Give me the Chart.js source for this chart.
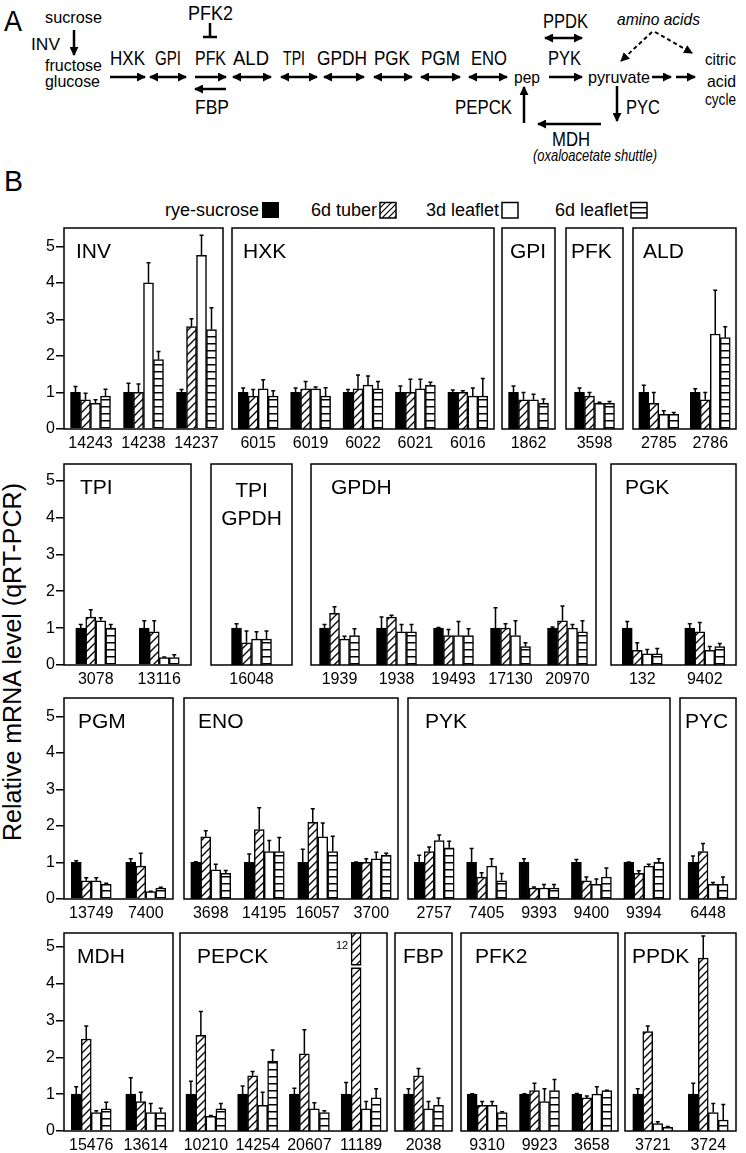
<!DOCTYPE html>
<html>
<head>
<meta charset="utf-8">
<script src="https://cdn.jsdelivr.net/npm/chart.js@4.4.1/dist/chart.umd.min.js"></script>
<style>
  body { margin: 0; background: #fff; }
  #fig { position: relative; width: 746px; height: 1153px; overflow: hidden; background: #fff; }
  #fig canvas { position: absolute; }
  #art { position: absolute; left: 0; top: 0; }
  #art text { font-family: "Liberation Sans", Arial, sans-serif; fill: #000; }
</style>
</head>
<body>
<div id="fig">
<svg id="art" width="746" height="1153" xmlns="http://www.w3.org/2000/svg">
  <defs>
    <marker id="ah" markerUnits="userSpaceOnUse" markerWidth="9" markerHeight="9" refX="8" refY="4.5" orient="auto-start-reverse">
      <path d="M0,0 L9,4.5 L0,9 z" fill="#000"/>
    </marker>
    <pattern id="hatch" width="6" height="6" patternUnits="userSpaceOnUse">
      <path d="M-1,1 l2,-2 M0,6 l6,-6 M5,7 l2,-2" stroke="#000" stroke-width="1.2"/>
    </pattern>
  </defs>

  <!-- panel A: pathway -->
  <text x="4" y="31" font-size="30" textLength="18" lengthAdjust="spacingAndGlyphs">A</text>
  <g font-size="17">
    <text x="45" y="23" textLength="57" lengthAdjust="spacingAndGlyphs">sucrose</text>
    <text x="31" y="50" textLength="29" lengthAdjust="spacingAndGlyphs">INV</text>
    <text x="45" y="71" textLength="57" lengthAdjust="spacingAndGlyphs">fructose</text>
    <text x="45" y="87" textLength="55" lengthAdjust="spacingAndGlyphs">glucose</text>
    <text x="514" y="83" textLength="26" lengthAdjust="spacingAndGlyphs">pep</text>
    <text x="588" y="83" textLength="62" lengthAdjust="spacingAndGlyphs">pyruvate</text>
    <text x="705" y="65" textLength="31" lengthAdjust="spacingAndGlyphs">citric</text>
    <text x="707" y="87" textLength="29" lengthAdjust="spacingAndGlyphs">acid</text>
    <text x="705" y="105" textLength="31" lengthAdjust="spacingAndGlyphs">cycle</text>
    <text x="617" y="25" font-style="italic" textLength="83" lengthAdjust="spacingAndGlyphs">amino acids</text>
    <text x="533" y="161" font-style="italic" textLength="124" lengthAdjust="spacingAndGlyphs">(oxaloacetate shuttle)</text>
  </g>
  <g font-size="21">
    <text x="110" y="65" textLength="35" lengthAdjust="spacingAndGlyphs">HXK</text>
    <text x="155" y="65" textLength="26" lengthAdjust="spacingAndGlyphs">GPI</text>
    <text x="195" y="65" textLength="31" lengthAdjust="spacingAndGlyphs">PFK</text>
    <text x="233" y="65" textLength="36" lengthAdjust="spacingAndGlyphs">ALD</text>
    <text x="283" y="65" textLength="22" lengthAdjust="spacingAndGlyphs">TPI</text>
    <text x="317" y="65" textLength="50" lengthAdjust="spacingAndGlyphs">GPDH</text>
    <text x="374" y="65" textLength="36" lengthAdjust="spacingAndGlyphs">PGK</text>
    <text x="421" y="65" textLength="39" lengthAdjust="spacingAndGlyphs">PGM</text>
    <text x="471" y="65" textLength="36" lengthAdjust="spacingAndGlyphs">ENO</text>
    <text x="548" y="65" textLength="33" lengthAdjust="spacingAndGlyphs">PYK</text>
    <text x="543" y="28" textLength="45" lengthAdjust="spacingAndGlyphs">PPDK</text>
    <text x="188" y="20" textLength="45" lengthAdjust="spacingAndGlyphs">PFK2</text>
    <text x="195" y="114" textLength="34" lengthAdjust="spacingAndGlyphs">FBP</text>
    <text x="455" y="114" textLength="57" lengthAdjust="spacingAndGlyphs">PEPCK</text>
    <text x="626" y="114" textLength="34" lengthAdjust="spacingAndGlyphs">PYC</text>
    <text x="552" y="146" textLength="38" lengthAdjust="spacingAndGlyphs">MDH</text>
  </g>
  <g stroke="#000" stroke-width="2.5" fill="none">
    <line x1="74" y1="30" x2="74" y2="55" marker-end="url(#ah)"/>
    <line x1="110" y1="77" x2="145" y2="77" marker-end="url(#ah)"/>
    <line x1="150" y1="77" x2="186" y2="77" marker-start="url(#ah)" marker-end="url(#ah)"/>
    <line x1="195" y1="77" x2="226" y2="77" marker-end="url(#ah)"/>
    <line x1="226" y1="89" x2="195" y2="89" marker-end="url(#ah)"/>
    <line x1="233" y1="77" x2="271" y2="77" marker-start="url(#ah)" marker-end="url(#ah)"/>
    <line x1="281" y1="77" x2="317" y2="77" marker-start="url(#ah)" marker-end="url(#ah)"/>
    <line x1="324" y1="77" x2="364" y2="77" marker-start="url(#ah)" marker-end="url(#ah)"/>
    <line x1="374" y1="77" x2="412" y2="77" marker-start="url(#ah)" marker-end="url(#ah)"/>
    <line x1="421" y1="77" x2="460" y2="77" marker-start="url(#ah)" marker-end="url(#ah)"/>
    <line x1="469" y1="77" x2="507" y2="77" marker-start="url(#ah)" marker-end="url(#ah)"/>
    <line x1="549" y1="77" x2="582" y2="77" marker-end="url(#ah)"/>
    <line x1="545" y1="38" x2="582" y2="38" marker-start="url(#ah)" marker-end="url(#ah)"/>
    <line x1="652" y1="77" x2="671" y2="77" marker-end="url(#ah)"/>
    <line x1="676" y1="77" x2="695" y2="77" marker-end="url(#ah)"/>
    <line x1="210" y1="23" x2="210" y2="37"/>
    <line x1="203" y1="37" x2="217" y2="37"/>
    <line x1="617" y1="86" x2="617" y2="121" marker-end="url(#ah)"/>
    <line x1="601" y1="124" x2="538" y2="124" marker-end="url(#ah)"/>
    <line x1="524" y1="123" x2="524" y2="87" marker-end="url(#ah)"/>
    <line x1="652" y1="32" x2="621" y2="61" stroke-width="2" stroke-dasharray="4 3" marker-end="url(#ah)"/>
    <line x1="655" y1="32" x2="692" y2="53" stroke-width="2" stroke-dasharray="4 3" marker-end="url(#ah)"/>
  </g>

  <!-- panel B: letter, legend, axis title -->
  <text x="4" y="191" font-size="30" textLength="19" lengthAdjust="spacingAndGlyphs">B</text>
  <g font-size="18" text-anchor="end">
    <text x="259" y="216">rye-sucrose</text>
    <text x="377" y="216">6d tuber</text>
    <text x="499" y="216">3d leaflet</text>
    <text x="628" y="216">6d leaflet</text>
  </g>
  <rect x="262" y="202" width="17" height="16" fill="#000"/>
  <rect x="380" y="202.5" width="16" height="15.5" fill="url(#hatch)" stroke="#000" stroke-width="1.5"/>
  <rect x="502" y="202.5" width="16" height="15.5" fill="#fff" stroke="#000" stroke-width="1.5"/>
  <rect x="631" y="202.5" width="16" height="15.5" fill="#fff" stroke="#000" stroke-width="1.5"/>
  <line x1="631" y1="207.7" x2="647" y2="207.7" stroke="#000" stroke-width="1.5"/>
  <line x1="631" y1="212.8" x2="647" y2="212.8" stroke="#000" stroke-width="1.5"/>
  <text transform="translate(21,662) rotate(-90)" text-anchor="middle" font-size="25">Relative mRNA level (qRT-PCR)</text>
</svg>
</div>

<script>
// gene ids, in panel order (left to right, top row first)
const genes = ['14243', '14238', '14237', '6015', '6019', '6022', '6021', '6016', '1862', '3598', '2785', '2786',
  '3078', '13116', '16048', '1939', '1938', '19493', '17130', '20970', '132', '9402',
  '13749', '7400', '3698', '14195', '16057', '3700', '2757', '7405', '9393', '9400', '9394', '6448',
  '15476', '13614', '10210', '14254', '20607', '11189', '2038', '9310', '9923', '3658', '3721', '3724'];

const panelNames = ['INV', 'HXK', 'GPI', 'PFK', 'ALD', 'TPI', 'TPI\nGPDH', 'GPDH', 'PGK',
  'PGM', 'ENO', 'PYK', 'PYC', 'MDH', 'PEPCK', 'FBP', 'PFK2', 'PPDK'];
const panelSizes = [3, 5, 1, 1, 2, 2, 1, 5, 2, 2, 4, 5, 1, 2, 4, 1, 3, 2];

const seriesLabels = ['rye-sucrose', '6d tuber', '3d leaflet', '6d leaflet'];

const ryeSucrose = [1, 1, 1, 1, 1, 1, 1, 1, 1, 1, 1, 1,
  1, 1, 1, 1, 1, 1, 1, 1, 1, 1,
  1, 1, 1, 1, 1, 1, 1, 1, 1, 1, 1, 1,
  1, 1, 1, 1, 1, 1, 1, 1, 1, 1, 1, 1];
const tuber6d = [0.8, 1.0, 2.8, 0.9, 1.1, 1.1, 1.0, 1.0, 0.8, 0.9, 0.7, 0.8,
  1.3, 0.9, 0.6, 1.4, 1.3, 0.8, 1.0, 1.2, 0.4, 0.9,
  0.5, 0.9, 1.7, 1.9, 2.1, 1.0, 1.3, 0.6, 0.3, 0.5, 0.7, 1.3,
  2.5, 0.8, 2.6, 1.5, 2.1, 12, 1.5, 0.7, 1.1, 0.9, 2.7, 4.7];
const leaflet3d = [0.7, 4.0, 4.75, 1.1, 1.1, 1.2, 1.1, 0.9, 0.8, 0.7, 0.4, 2.6,
  1.2, 0.2, 0.7, 0.7, 0.9, 0.8, 0.8, 1.0, 0.3, 0.4,
  0.5, 0.2, 0.8, 1.3, 1.7, 1.1, 1.6, 0.9, 0.3, 0.4, 0.9, 0.4,
  0.5, 0.5, 0.4, 0.7, 0.6, 0.6, 0.6, 0.7, 0.8, 1.0, 0.2, 0.5];
const leaflet6d = [0.9, 1.9, 2.72, 0.9, 0.9, 1.1, 1.2, 0.9, 0.7, 0.7, 0.4, 2.5,
  1.0, 0.2, 0.7, 0.8, 0.9, 0.8, 0.5, 0.9, 0.3, 0.5,
  0.4, 0.3, 0.7, 1.3, 1.3, 1.2, 1.4, 0.5, 0.3, 0.6, 1.0, 0.4,
  0.6, 0.5, 0.6, 1.9, 0.5, 0.9, 0.7, 0.5, 1.1, 1.1, 0.1, 0.3];

// upper error bar lengths
const ryeSucroseErr = [0.16, 0.25, 0.08, 0.12, 0.12, 0.08, 0.18, 0.07, 0.18, 0.12, 0.2, 0.1,
  0.1, 0.2, 0.12, 0.1, 0.3, 0.02, 0.55, 0.03, 0.18, 0.12,
  0.05, 0.1, 0.02, 0.23, 0.36, 0.01, 0.2, 0.38, 0.1, 0.08, 0.01, 0.18,
  0.2, 0.45, 0.35, 0.22, 0.16, 0.32, 0.15, 0.01, 0.01, 0.02, 0.15, 0.3];
const tuber6dErr = [0.18, 0.23, 0.22, 0.18, 0.2, 0.38, 0.36, 0.05, 0.2, 0.1, 0.3, 0.2,
  0.2, 0.3, 0.32, 0.18, 0.05, 0.16, 0.12, 0.4, 0.2, 0.25,
  0.08, 0.35, 0.17, 0.6, 0.37, 0.1, 0.12, 0.12, 0.03, 0.1, 0.07, 0.22,
  0.35, 0.25, 0.65, 0.12, 0.65, 0, 0.2, 0.1, 0.2, 0.05, 0.15, 0.6];
const leaflet3dErr = [0.1, 0.55, 0.55, 0.25, 0.05, 0.25, 0.26, 0.22, 0.15, 0.03, 0.1, 1.2,
  0.08, 0.02, 0.2, 0.08, 0.2, 0.38, 0.4, 0.1, 0.12, 0.1,
  0.08, 0.01, 0.15, 0.3, 0.38, 0.18, 0.15, 0.2, 0.1, 0.15, 0.05, 0.05,
  0.05, 0.25, 0.02, 0.35, 0.17, 0.2, 0.2, 0.1, 0.35, 0.2, 0.05, 0.25];
const leaflet6dErr = [0.19, 0.22, 0.6, 0.15, 0.23, 0.2, 0.08, 0.48, 0.12, 0.05, 0.05, 0.3,
  0.1, 0.08, 0.22, 0.18, 0.2, 0.18, 0.1, 0.3, 0.15, 0.08,
  0.03, 0.02, 0.08, 0.38, 0.42, 0.05, 0.18, 0.2, 0.1, 0.25, 0.1, 0.2,
  0.18, 0.12, 0.15, 0.3, 0.05, 0.25, 0.2, 0.02, 0.3, 0.01, 0.02, 0.42];

// value range where an off-scale bar is shown broken
const breakFrom = 4.42, breakTo = 4.52;

// ---- layout (pixels) ----
const rows = [
  { top: 228, bottom: 429, max: 5.5 },
  { top: 464, bottom: 665, max: 5.45 },
  { top: 698, bottom: 899, max: 5.5 },
  { top: 933, bottom: 1131, max: 5.38 }
];
// [row, box left, box right, label offset]  (null offset = centred)
const boxes = [
  [0, 64, 223, 12], [0, 232, 494, 11], [0, 502, 555, 8], [0, 566, 623, 5], [0, 633, 736, 10],
  [1, 64, 191, 16], [1, 211, 292, null], [1, 311, 596, 20], [1, 611, 736, 14],
  [2, 64, 173, 14], [2, 184, 398, 14], [2, 408, 670, 17], [2, 680, 736, 5],
  [3, 64, 173, 13], [3, 180, 387, 17], [3, 395, 452, 8], [3, 461, 618, 14], [3, 625, 736, 7]
];

const FONT = '"Liberation Sans", Arial, sans-serif';
const fig = document.getElementById('fig');

function makePattern(kind) {
  const c = document.createElement('canvas');
  if (kind === 'hatch') { c.width = 8; c.height = 8; } else { c.width = 4; c.height = 7; }
  const g = c.getContext('2d');
  g.fillStyle = '#fff';
  g.fillRect(0, 0, c.width, c.height);
  if (kind === 'hatch') {
    g.strokeStyle = '#000';
    g.lineWidth = 1.3;
    g.beginPath();
    g.moveTo(-2, 2); g.lineTo(2, -2);
    g.moveTo(0, 8); g.lineTo(8, 0);
    g.moveTo(6, 10); g.lineTo(10, 6);
    g.stroke();
  } else {
    g.fillStyle = '#000';
    g.fillRect(0, 3, 4, 1.5);
  }
  return g.createPattern(c, 'repeat');
}

const fills = ['#000', makePattern('hatch'), '#fff', makePattern('stripe')];
const values = [ryeSucrose, tuber6d, leaflet3d, leaflet6d];
const errors = [ryeSucroseErr, tuber6dErr, leaflet3dErr, leaflet6dErr];

const panelPlugin = {
  id: 'panel',
  afterDatasetsDraw(chart, args, opts) {
    const { ctx, chartArea: a } = chart;
    const y = chart.scales.y;
    ctx.save();
    ctx.strokeStyle = '#000';
    ctx.fillStyle = '#000';
    ctx.lineWidth = 1.5;

    chart.data.datasets.forEach((ds, i) => {
      chart.getDatasetMeta(i).data.forEach((bar, j) => {
        const v = ds.data[j];
        if (v > y.max) {
          // broken bar + its real value
          const y1 = y.getPixelForValue(breakTo), y2 = y.getPixelForValue(breakFrom);
          const l = bar.x - bar.width / 2, w = bar.width;
          ctx.fillStyle = '#fff';
          ctx.fillRect(l - 0.5, y1, w + 1, y2 - y1);
          ctx.beginPath();
          ctx.moveTo(l, y1); ctx.lineTo(l + w, y1);
          ctx.moveTo(l, y2); ctx.lineTo(l + w, y2);
          ctx.stroke();
          ctx.fillStyle = '#000';
          ctx.font = '11px ' + FONT;
          ctx.textAlign = 'right';
          ctx.textBaseline = 'middle';
          ctx.fillText(String(v), l - 3, a.top + 13);
          return;
        }
        const e = ds.errs[j];
        if (!e) return;
        const y0 = y.getPixelForValue(v), yt = y.getPixelForValue(v + e);
        ctx.beginPath();
        ctx.moveTo(bar.x, y0); ctx.lineTo(bar.x, yt);
        ctx.moveTo(bar.x - 2, yt); ctx.lineTo(bar.x + 2, yt);
        ctx.stroke();
      });
    });

    ctx.strokeRect(a.left, a.top, a.right - a.left, a.bottom - a.top);

    ctx.font = '21px ' + FONT;
    ctx.textBaseline = 'alphabetic';
    const lines = opts.name.split('\n');
    if (opts.dx === null) {
      ctx.textAlign = 'center';
      lines.forEach((t, k) => ctx.fillText(t, (a.left + a.right) / 2, a.top + 33 + k * 28));
    } else {
      ctx.textAlign = 'left';
      lines.forEach((t, k) => ctx.fillText(t, a.left + opts.dx, a.top + 30 + k * 28));
    }
    ctx.restore();
  }
};

let start = 0;
panelNames.forEach((name, p) => {
  const n = panelSizes[p];
  const part = arr => arr.slice(start, start + n);
  const [row, left, right, dx] = boxes[p];
  const r = rows[row];
  const first = p === 0 || boxes[p - 1][0] !== row;
  const padL = first ? 32 : 2;
  const w = right - left + padL + 2;
  const h = r.bottom - r.top + 14 + 28;

  const cv = document.createElement('canvas');
  cv.width = w; cv.height = h;
  cv.style.left = (left - padL) + 'px';
  cv.style.top = (r.top - 14) + 'px';
  cv.style.width = w + 'px';
  cv.style.height = h + 'px';
  fig.appendChild(cv);

  new Chart(cv, {
    type: 'bar',
    data: {
      labels: part(genes),
      datasets: values.map((vals, i) => ({
        label: seriesLabels[i],
        data: part(vals),
        errs: part(errors[i]),
        backgroundColor: fills[i],
        borderColor: '#000',
        borderWidth: 1.5,
        barThickness: 10,
        clip: 0
      }))
    },
    options: {
      responsive: false,
      animation: false,
      events: [],
      layout: { padding: { top: 14, left: 2, right: 2, bottom: 0 } },
      plugins: {
        legend: { display: false },
        tooltip: { enabled: false },
        panel: { name: name, dx: dx }
      },
      scales: {
        x: {
          grid: { display: false, drawTicks: false },
          border: { display: false },
          ticks: { color: '#000', font: { family: FONT, size: 16 }, padding: 5, maxRotation: 0, autoSkip: false },
          afterFit: s => { s.height = 28; }
        },
        y: {
          display: first,
          min: 0,
          max: r.max,
          grid: { drawOnChartArea: false, drawTicks: true, tickLength: 8, color: '#000', lineWidth: 1.5 },
          border: { display: false },
          ticks: { stepSize: 1, includeBounds: false, color: '#000', font: { family: FONT, size: 16 }, padding: 1 },
          afterFit: s => { s.width = first ? 30 : 0; }
        }
      }
    },
    plugins: [panelPlugin]
  });
  start += n;
});
</script>
</body>
</html>
